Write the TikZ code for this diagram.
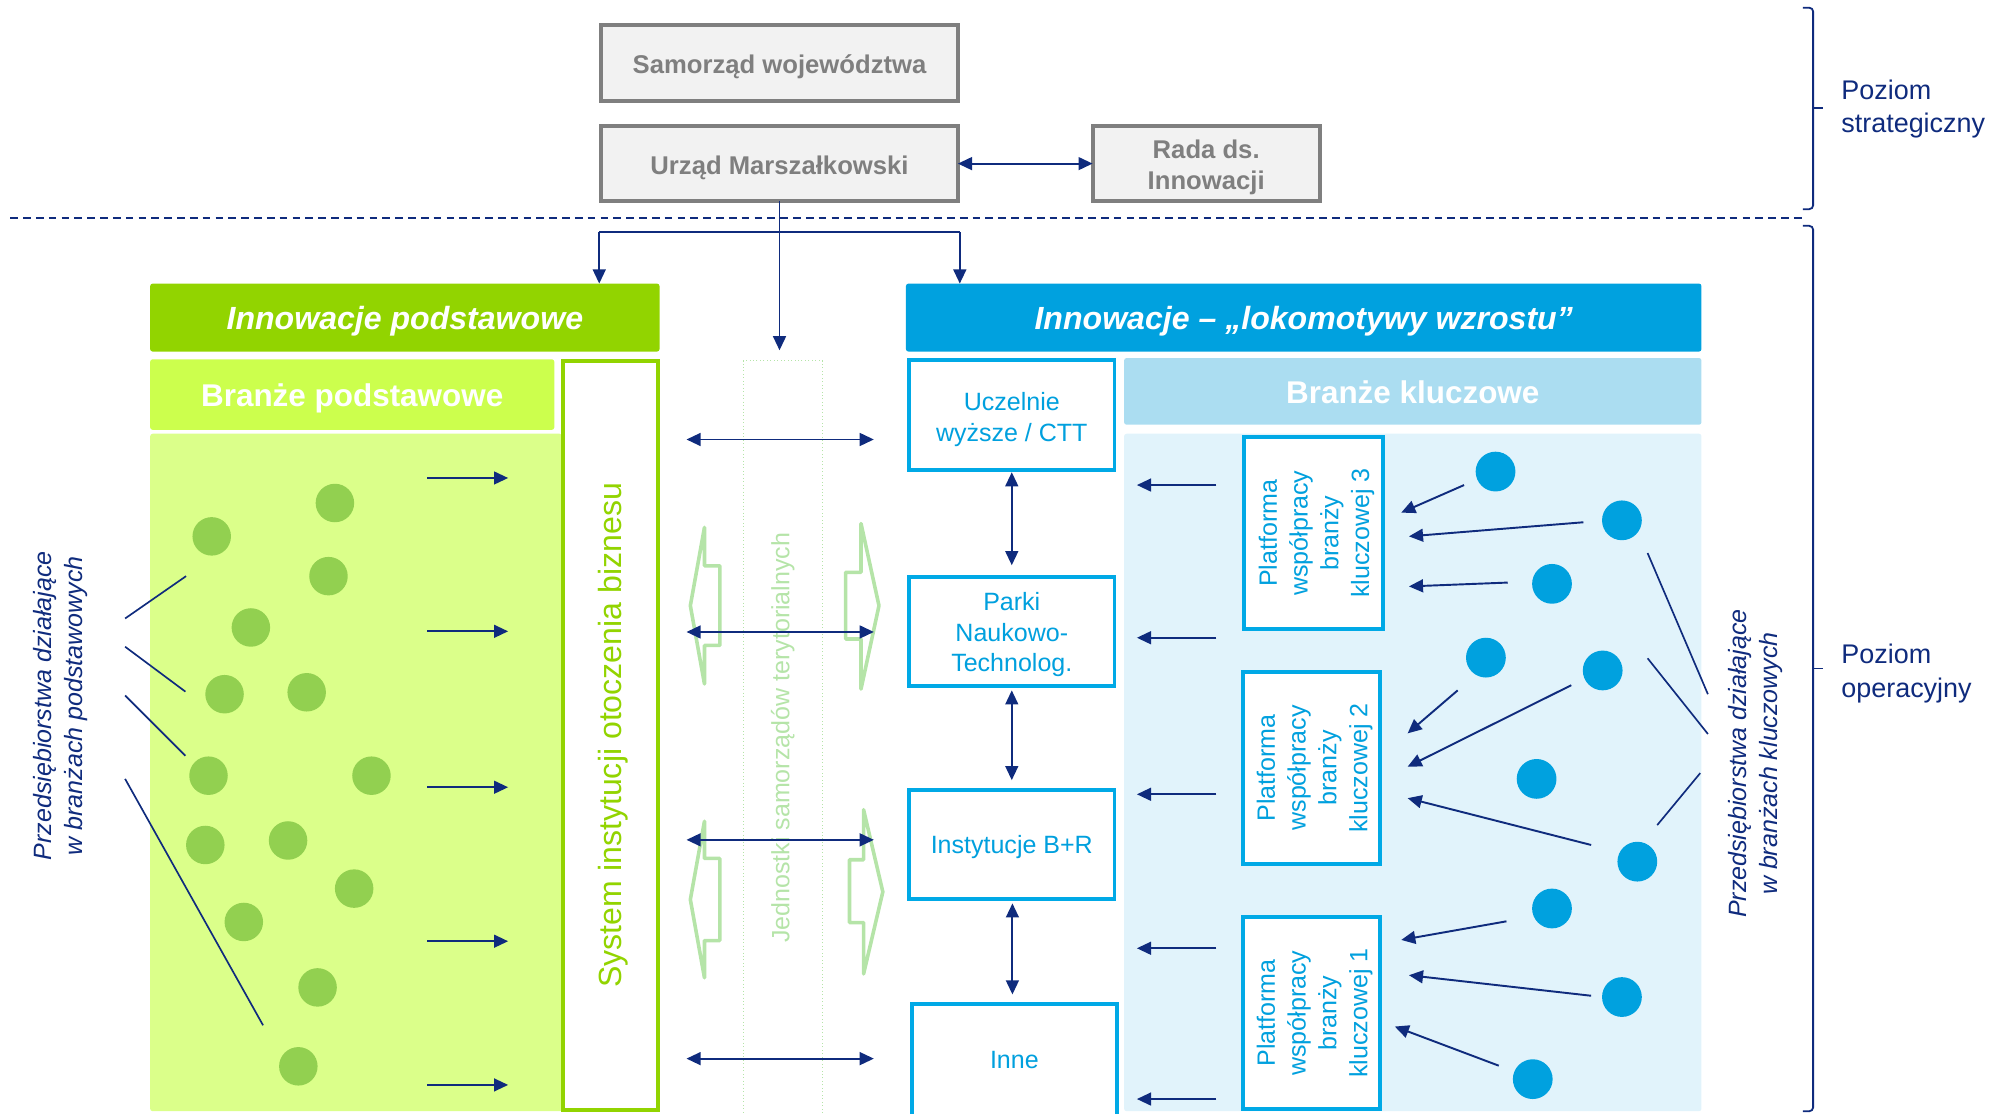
\documentclass[tikz,border=0pt]{standalone}
\usepackage{fontspec}
\setmainfont{Liberation Sans}
\usetikzlibrary{arrows.meta}
\definecolor{navy}{HTML}{0F2B7D}
\definecolor{grayF}{HTML}{F2F2F2}
\definecolor{grayB}{HTML}{7F7F7F}
\definecolor{grayT}{HTML}{7F7F7F}
\definecolor{gHead}{HTML}{92D400}
\definecolor{gBran}{HTML}{CCFF4D}
\definecolor{gArea}{HTML}{DBFF8A}
\definecolor{gDot}{HTML}{92D050}
\definecolor{gPale}{HTML}{B5E4A8}
\definecolor{bHead}{HTML}{00A1DF}
\definecolor{bBran}{HTML}{ABDDF1}
\definecolor{bArea}{HTML}{E1F3FB}
\definecolor{bLine}{HTML}{00A9E6}
\definecolor{bText}{HTML}{00A0DE}
\definecolor{bDot}{HTML}{00A1DF}
\begin{document}
\begin{tikzpicture}[x=1pt,y=-1pt,
  every node/.style={inner sep=0pt, outer sep=0pt},
  th/.style={text height=#1, text depth=0pt},
  grayb/.style={draw=grayB, fill=grayF, line width=3.2pt, text=grayT, font=\fontsize{20}{24}\selectfont\bfseries, align=center},
  hdr/.style={th=19pt, fill=#1, rounded corners=2pt, text=white, font=\fontsize{25}{30}\selectfont\bfseries\itshape},
  bran/.style={th=18.5pt, fill=#1, rounded corners=2pt, text=white, font=\fontsize{24.5}{30}\selectfont\bfseries},
  area/.style={fill=#1, rounded corners=2pt},
  bbox/.style={draw=bLine, fill=white, line width=3pt, text=bText, font=\fontsize{19.5}{23.5}\selectfont, align=center},
  btxt/.style={text=bText, font=\fontsize{19.5}{23.5}\selectfont, align=center},
  ptxt/.style={rotate=90, text=bText, font=\fontsize{19.5}{24}\selectfont, align=center},
  arr/.style={draw=navy, line width=1.5pt, -{Triangle[length=11pt,width=10pt]}},
  darr/.style={draw=navy, line width=1.5pt, {Triangle[length=11pt,width=10pt]}-{Triangle[length=11pt,width=10pt]}},
  leader/.style={draw=navy, line width=1.3pt},
  gdot/.style={circle, fill=gDot, minimum size=30pt},
  bdot/.style={circle, fill=bDot, minimum size=31pt},
  lab/.style={rotate=90, text=navy, font=\fontsize{19.5}{24}\selectfont\itshape, align=center},
  lvl/.style={anchor=west, text=navy, font=\fontsize{21}{26}\selectfont, align=left},
  garr/.style={draw=gPale, line width=2.8pt, line join=round}]
\useasboundingbox (0,0) rectangle (1568,868);

% strategic level
\node[grayb, th=16.4pt, minimum width=278pt, minimum height=59pt] (sam) at (607.5,49) {Samorząd województwa};
\node[grayb, th=16.4pt, minimum width=278pt, minimum height=58pt] (urz) at (607.5,127.5) {Urząd Marszałkowski};
\node[grayb, minimum width=177pt, minimum height=58pt] (rada) at (940,127.5) {};
\node[text=grayT, font=\fontsize{20}{24}\selectfont\bfseries, align=center] (radaT) at ([yshift=-3pt]rada.center) {Rada ds.\\Innowacji};
\draw[darr] (urz.east) -- (rada.west);

\draw[navy, line width=1.3pt, dash pattern=on 6pt off 4pt] (8,170) -- (1404,170);

% braces and levels
\draw[navy, line width=1.4pt, rounded corners=3pt] (1405,6) -- (1413,6) -- (1413,163) -- (1405,163);
\draw[navy, line width=1.4pt] (1413,84) -- (1421,84);
\draw[navy, line width=1.4pt, rounded corners=3pt] (1405,176) -- (1413,176) -- (1413,866) -- (1405,866);
\draw[navy, line width=1.4pt] (1413,521) -- (1421,521);
\node[lvl] (ps) at (1435,85) {Poziom\\strategiczny};
\node[lvl] (po) at (1435,525) {Poziom\\operacyjny};

% green side
\node[hdr=gHead, minimum width=397pt, minimum height=53pt] (hG) at (315.5,247.5) {Innowacje podstawowe};
\node[bran=gBran, minimum width=315pt, minimum height=55pt] (bG) at (274.5,307.5) {Branże podstawowe};
\node[area=gArea, minimum width=321pt, minimum height=528pt] (aG) at (277.5,602) {};
\node[draw=gHead, fill=white, line width=3pt, minimum width=74pt, minimum height=584pt] (sys) at (476,573) {};
\node[rotate=90, text=gHead, font=\fontsize{25}{30}\selectfont] (sysT) at (478,573) {System instytucji otoczenia biznesu};

\foreach \x/\y [count=\i] in {261/392,165/418,256/449,195.5/489,175/541,239/539.5,162.5/604.5,289.5/604.5,160/658.5,224.5/655,276/692.5,190/718.5,247.5/769.5,232.5/831}
  \node[gdot] (g\i) at (\x,\y) {};
\foreach \y [count=\i] in {372.5,492,613.5,733.5,845.5} {
  \coordinate (ga\i) at (333,\y); \coordinate (gb\i) at (396,\y);
  \draw[arr] (ga\i) -- (gb\i);
}
\node[lab] (labL) at (47,550) {Przedsiębiorstwa działające\\w branżach podstawowych};
\draw[leader] (97.5,482) -- (145,449);
\draw[leader] (97.5,504) -- (144.5,539);
\draw[leader] (97.5,542) -- (144.5,589);
\draw[leader] (97.5,607) -- (205,799);

% middle column
\node[draw=gPale, dotted, line width=0.7pt, minimum width=62pt, minimum height=600pt, anchor=north west] (col) at (579,281) {};
\draw[garr] (549,411) -- (538,472) -- (549,533) -- (549,503) -- (561,503) -- (561,441) -- (549,441) -- cycle;
\draw[garr] (671,408) -- (685,472) -- (671,537) -- (671,498) -- (659,498) -- (659,446) -- (671,446) -- cycle;
\draw[garr] (549,640) -- (538,701) -- (549,762) -- (549,733) -- (561,733) -- (561,669) -- (549,669) -- cycle;
\draw[garr] (673,631) -- (688,695) -- (673,759) -- (673,719) -- (662,719) -- (662,670) -- (673,670) -- cycle;
\node[rotate=90, text=gPale, font=\fontsize{19.5}{24}\selectfont] (colT) at (610,575) {Jednostki samorządów terytorialnych};
\foreach \y [count=\i] in {342.5,492.5,654.5,825} {
  \coordinate (dl\i) at (535,\y); \coordinate (dr\i) at (681,\y);
  \draw[darr] (dl\i) -- (dr\i);
}

% connectors from Urząd
\coordinate (bl) at (467,181);
\coordinate (brr) at (748,181);
\draw[arr, shorten >=8pt] (urz.south) -- (urz.south |- col.north);
\draw[navy, line width=1.5pt] (bl) -- (brr);
\draw[arr] (bl) -- (bl |- hG.north);

% blue side
\node[hdr=bHead, minimum width=620pt, minimum height=53pt] (hB) at (1016,247.5) {Innowacje – „lokomotywy wzrostu”};
\draw[arr] (brr) -- (brr |- hB.north);
\node[bran=bBran, minimum width=450pt, minimum height=52pt] (bB) at (1101,305) {Branże kluczowe};
\node[area=bArea, minimum width=450pt, minimum height=528pt] (aB) at (1101,602) {};

\node[bbox, minimum width=160pt, minimum height=86pt] (ucz) at (788.5,323.5) {};
\node[btxt] (uczT) at ([yshift=-3.5pt]ucz.center) {Uczelnie\\wyższe / CTT};
\node[bbox, minimum width=160pt, minimum height=85pt] (park) at (788.5,492) {};
\node[btxt] (parkT) at ([yshift=-2.5pt]park.center) {Parki\\Naukowo-\\Technolog.};
\node[bbox, th=14pt, minimum width=160pt, minimum height=85pt] (inst) at (788.5,658) {Instytucje B+R};
\node[bbox, th=12pt, minimum width=160pt, minimum height=88pt] (inne) at (790.5,826.5) {Inne};
\draw[darr, shorten <=1.5pt, shorten >=9pt] (ucz.south) -- (park.north);
\draw[darr, shorten <=3.5pt, shorten >=7.5pt] (park.south) -- (inst.north);
\draw[darr, shorten <=3.5pt, shorten >=7.5pt] ([xshift=0.5pt]inst.south) -- ([xshift=-1.5pt]inne.north);

\foreach \y [count=\i] in {378,497,619,739,856.5} {
  \coordinate (ba\i) at (948,\y); \coordinate (bb\i) at (886,\y);
  \draw[arr] (ba\i) -- (bb\i);
}

\node[bbox, minimum width=108pt, minimum height=150pt] (p3) at (1023.5,415.5) {};
\node[bbox, minimum width=107pt, minimum height=150pt] (p2) at (1022,598.5) {};
\node[bbox, minimum width=107pt, minimum height=150pt] (p1) at (1022,789.5) {};
\node[ptxt] (p3t) at (1026,415.5) {Platforma\\współpracy\\branży\\kluczowej 3};
\node[ptxt] (p2t) at (1024.5,598.5) {Platforma\\współpracy\\branży\\kluczowej 2};
\node[ptxt] (p1t) at (1024.5,789.5) {Platforma\\współpracy\\branży\\kluczowej 1};

\foreach \x/\y [count=\i] in {1165.5/367.5,1264/405.5,1209.5/455,1158/512.5,1249/522.5,1197.5/607,1276/671.5,1209.5/708,1264/777,1194.5/841}
  \node[bdot] (b\i) at (\x,\y) {};

\draw[arr] (1141,378) -- (1092,399.5);
\draw[arr] (1234,407) -- (1098,418);
\draw[arr] (1175,454) -- (1098,457);
\draw[arr] (1136,538) -- (1097,571.5);
\draw[arr] (1224.5,534) -- (1097,597.5);
\draw[arr] (1240,658.5) -- (1097,622);
\draw[arr] (1174,718) -- (1092,732.5);
\draw[arr] (1240,776) -- (1098,760);
\draw[arr] (1168,830.5) -- (1087,800);

\draw[leader] (1284,431) -- (1331,541);
\draw[leader] (1284,513) -- (1331,572);
\draw[leader] (1291.5,643) -- (1325,602.5);
\node[lab] (labR) at (1368,595) {Przedsiębiorstwa działające\\w branżach kluczowych};
\end{tikzpicture}
\end{document}
